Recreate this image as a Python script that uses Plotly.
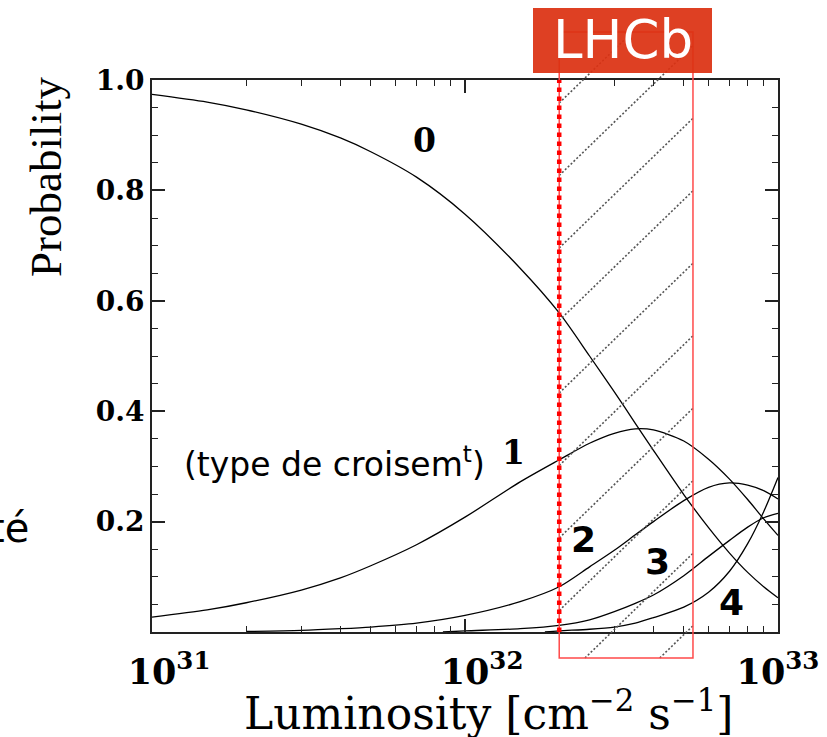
import math
import plotly.graph_objects as go

# ---------------- data ----------------
LUMI = [1e31, 1.5e31, 2e31, 3e31, 4e31, 5e31, 7e31, 1e32, 1.5e32, 2e32,
        2.5e32, 3e32, 3.5e32, 4e32, 5e32, 6e32, 7e32, 8e32, 9e32, 1e33]
P0 = [0.974, 0.960, 0.946, 0.920, 0.895, 0.870, 0.824, 0.757, 0.659, 0.578,
      0.500, 0.435, 0.378, 0.329, 0.249, 0.189, 0.143, 0.108, 0.082, 0.062]
P1 = [0.027, 0.040, 0.053, 0.076, 0.098, 0.120, 0.158, 0.208, 0.272, 0.312,
      0.342, 0.360, 0.368, 0.366, 0.346, 0.313, 0.277, 0.240, 0.205, 0.175]

LUMI_2 = [2e31, 3e31, 4e31, 5e31, 7e31, 1e32, 1.5e32, 2e32, 2.5e32, 3e32,
          3.5e32, 4e32, 5e32, 6e32, 7e32, 8e32, 9e32, 1e33]
P2 = [0.001, 0.003, 0.006, 0.009, 0.016, 0.030, 0.055, 0.082, 0.118, 0.148,
      0.176, 0.200, 0.238, 0.262, 0.270, 0.266, 0.256, 0.241]

LUMI_3 = [8.5e31, 1e32, 1.5e32, 2e32, 2.5e32, 3e32, 3.5e32, 4e32, 5e32, 6e32,
          7e32, 8e32, 9e32, 1e33]
P3 = [0.000, 0.002, 0.006, 0.012, 0.022, 0.037, 0.052, 0.067, 0.102, 0.137,
      0.166, 0.190, 0.207, 0.215]

LUMI_4 = [1.8e32, 2e32, 2.5e32, 3e32, 3.5e32, 4e32, 5e32, 6e32, 7e32, 8e32,
          9e32, 1e33]
P4 = [0.000, 0.002, 0.005, 0.009, 0.016, 0.026, 0.045, 0.072, 0.110, 0.160,
      0.218, 0.280]

CURVE_LABELS = ["0", "1", "2", "3", "4"]
LHCB_BAND = [2e32, 5.35e32]          # LHCb operating luminosity range
X_RANGE = [1e31, 1e33]
X_TICKS = [1e31, 1e32, 1e33]
X_EXPONENTS = ["31", "32", "33"]
X_MINOR = [float(m) * 10.0 ** e for e in (31, 32) for m in range(2, 10)]
Y_TICKS = [0.2, 0.4, 0.6, 0.8, 1.0]
Y_TICKTEXT = ["0.2", "0.4", "0.6", "0.8", "1.0"]
Y_MINOR = [round(0.05 * i, 2) for i in range(1, 20)]

# tick texts: the first two have an invisible exponent on the left so that
# the "10" sits on the tick, the last one is centred (as in the original)
PAD = "<span style='color:rgba(0,0,0,0)'><sup>{}</sup></span>"
X_TICKTEXT = [(PAD.format(e) if i < 2 else "") + "10<sup>{}</sup>".format(e)
              for i, e in enumerate(X_EXPONENTS)]

# ---------------- figure ----------------
W, H = 827, 737
ML, MR, MT, MB = 152, 49, 80, 105
PW, PH = W - ML - MR, H - MT - MB

fig = go.Figure()
series = [(LUMI, P0), (LUMI, P1), (LUMI_2, P2), (LUMI_3, P3), (LUMI_4, P4)]
for (xs, ys), name in zip(series, CURVE_LABELS):
    fig.add_trace(go.Scatter(x=xs, y=ys, mode="lines", name=name,
                             line=dict(color="black", width=1.3, shape="spline",
                                       smoothing=0.8),
                             showlegend=False, hoverinfo="skip"))

lx0, lx1 = math.log10(X_RANGE[0]), math.log10(X_RANGE[1])


def xpaper(v):
    return (math.log10(v) - lx0) / (lx1 - lx0)


def px2paper(x, y):
    return (x - ML) / PW, (MT + PH - y) / PH


shapes = []
# hatch lines inside the LHCb band (pixel geometry -> paper)
bx0 = ML + xpaper(LHCB_BAND[0]) * PW
bx1 = ML + xpaper(LHCB_BAND[1]) * PW
top_px, bot_px = 32, 658
slope, spacing, c0 = 0.97, 72.5, 103
for k in range(-12, 20):
    c = c0 + spacing * k
    xa = max(bx0, bx0 + (c - bot_px) / slope)
    xb = min(bx1, bx0 + (c - top_px) / slope)
    if xb - xa < 1:
        continue
    ya = c - slope * (xa - bx0)
    yb = c - slope * (xb - bx0)
    p0 = px2paper(xa, ya)
    p1 = px2paper(xb, yb)
    shapes.append(dict(type="line", xref="paper", yref="paper",
                       x0=p0[0], y0=p0[1], x1=p1[0], y1=p1[1],
                       line=dict(color="#555555", width=1.6, dash="2px,2px"),
                       layer="above"))
# red outline of the band
shapes.append(dict(type="rect", xref="x", yref="paper",
                   x0=LHCB_BAND[0], x1=LHCB_BAND[1],
                   y0=px2paper(0, bot_px)[1], y1=px2paper(0, top_px)[1],
                   line=dict(color="#FF4A4A", width=1.5), layer="above"))
# thick red dotted line at the lower edge of the band
shapes.append(dict(type="line", xref="x", yref="paper",
                   x0=LHCB_BAND[0], x1=LHCB_BAND[0], y0=0, y1=1,
                   line=dict(color="#FF0000", width=4.5, dash="dot"),
                   layer="above"))
# LHCb title box
b0 = px2paper(533, 73)
b1 = px2paper(712, 8)
shapes.append(dict(type="rect", xref="paper", yref="paper",
                   x0=b0[0], y0=b0[1], x1=b1[0], y1=b1[1],
                   fillcolor="#DC3212", line=dict(width=0), opacity=0.93,
                   layer="above"))

annotations = []


def ann(text, x, y, size, family, color="black", weight="normal",
        xanchor="center", yanchor="middle", angle=0):
    px, py = px2paper(x, y)
    annotations.append(dict(text=text, x=px, y=py, xref="paper", yref="paper",
                            showarrow=False, xanchor=xanchor, yanchor=yanchor,
                            textangle=angle,
                            font=dict(size=size, family=family, color=color,
                                      weight=weight)))


ann("LHCb", 623, 40, 53, "DejaVu Sans", color="white")
ann("(type de croisem<sup>t</sup>)", 182, 462, 33, "DejaVu Sans",
    xanchor="left")
ann(CURVE_LABELS[0], 424, 140, 33, "DejaVu Serif", weight="bold")
ann(CURVE_LABELS[1], 513, 452, 33, "DejaVu Serif", weight="bold")
ann(CURVE_LABELS[2], 583, 539, 36, "DejaVu Sans", weight="bold")
ann(CURVE_LABELS[3], 657, 561, 36, "DejaVu Sans", weight="bold")
ann(CURVE_LABELS[4], 731, 602, 36, "DejaVu Sans", weight="bold")
ann("Probability", 46, 177, 45, "Liberation Serif", angle=-90)
ann("Probabilité", 31, 528, 40, "DejaVu Sans", xanchor="right")
ann("Luminosity [cm<sup>−2</sup> s<sup>−1</sup>]", 488, 710, 44,
    "DejaVu Serif")

fig.update_layout(
    width=W, height=H,
    margin=dict(l=ML, r=MR, t=MT, b=MB, pad=0, autoexpand=False),
    paper_bgcolor="white", plot_bgcolor="white",
    shapes=shapes, annotations=annotations,
    xaxis=dict(type="log", range=[lx0, lx1], showgrid=False, zeroline=False,
               automargin=False,
               showline=True, linecolor="#222", linewidth=2, mirror="ticks",
               ticks="inside", ticklen=13, tickwidth=1.5, tickcolor="#222",
               tickmode="array", tickvals=X_TICKS, ticktext=X_TICKTEXT,
               ticklabelstandoff=8, ticklabeloverflow="allow",
               tickfont=dict(family="DejaVu Serif", size=35, color="black",
                             weight="bold"),
               minor=dict(ticks="inside", ticklen=6, tickwidth=1.3,
                          tickcolor="#222", tickmode="array",
                          tickvals=X_MINOR, showgrid=False)),
    yaxis=dict(range=[0, 1.0], showgrid=False, zeroline=False,
               automargin=False,
               showline=True, linecolor="#222", linewidth=2, mirror="ticks",
               ticks="inside", ticklen=13, tickwidth=1.5, tickcolor="#222",
               tickmode="array", tickvals=Y_TICKS, ticktext=Y_TICKTEXT,
               tickfont=dict(family="DejaVu Serif", size=28, color="black",
                             weight="bold"),
               minor=dict(ticks="inside", ticklen=6, tickwidth=1.3,
                          tickcolor="#222", tickmode="array",
                          tickvals=Y_MINOR, showgrid=False)),
)

fig.write_html("out.html")
